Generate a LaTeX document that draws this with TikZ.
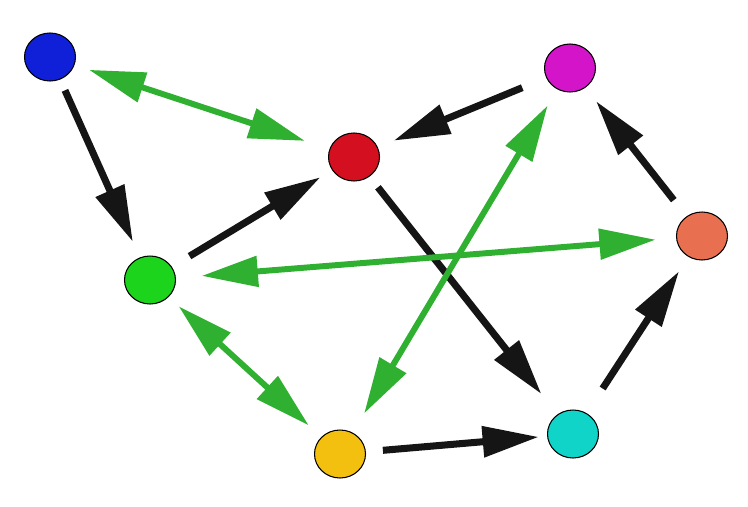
\documentclass[tikz,border=0pt]{standalone}
\usepackage{tikz}
\usetikzlibrary{arrows.meta, shapes.geometric}

\definecolor{dotblue}{HTML}{1020D8}
\definecolor{dotmagenta}{HTML}{D414C8}
\definecolor{dotred}{HTML}{D41020}
\definecolor{dotgreen}{HTML}{1CD41C}
\definecolor{dotorange}{HTML}{E87050}
\definecolor{dotyellow}{HTML}{F4C010}
\definecolor{dotcyan}{HTML}{10D4C8}
\definecolor{arrgreen}{HTML}{30B030}
\definecolor{arrblack}{HTML}{151515}

\begin{document}
\begin{tikzpicture}[x=0.02cm, y=-0.02cm, >={Triangle[length=32pt, width=17pt]},
    dot/.style={ellipse, draw=black, line width=0.6pt, minimum width=1.02cm, minimum height=0.96cm, outer sep=0pt},
    onearrow/.style={->, line width=4pt, draw=arrblack},
    twoarrow/.style={<->, line width=3.4pt, draw=arrgreen}]
    \useasboundingbox (0,0) rectangle (748,507);

    % Các đỉnh
    \node[dot, fill=dotblue] (blue) at (50,57) {};
    \node[dot, fill=dotmagenta] (magenta) at (570,68) {};
    \node[dot, fill=dotred] (red) at (354,157) {};
    \node[dot, fill=dotgreen] (green) at (150,280) {};
    \node[dot, fill=dotorange] (orange) at (702,236) {};
    \node[dot, fill=dotyellow] (yellow) at (340,454) {};
    \node[dot, fill=dotcyan] (cyan) at (573,434) {};

    % Cung một chiều
    \draw[onearrow, shorten <=7pt, shorten >=10pt] (blue) -- (green);
    \draw[onearrow, shorten <=12pt, shorten >=8pt] (green) -- (red);
    \draw[onearrow, shorten <=15pt, shorten >=10pt] (magenta) -- (red);
    \draw[onearrow, shorten <=8pt, shorten >=15pt] (red) -- (cyan);
    \draw[onearrow, shorten <=10pt, shorten >=5pt] (yellow) -- (cyan);
    \draw[onearrow, shorten <=17pt, shorten >=10pt] (cyan) -- (orange);
    \draw[onearrow, shorten <=12pt, shorten >=10pt] (orange) -- (magenta);

    % Cung hai chiều
    \draw[twoarrow, shorten <=9pt, shorten >=15pt] (blue) -- (red);
    \draw[twoarrow, shorten <=15pt, shorten >=12pt] (green) -- (orange);
    \draw[twoarrow, shorten <=11pt, shorten >=13pt] (magenta) -- (yellow);
    \draw[twoarrow, shorten <=8pt, shorten >=10pt] (green) -- (yellow);
\end{tikzpicture}
\end{document}
